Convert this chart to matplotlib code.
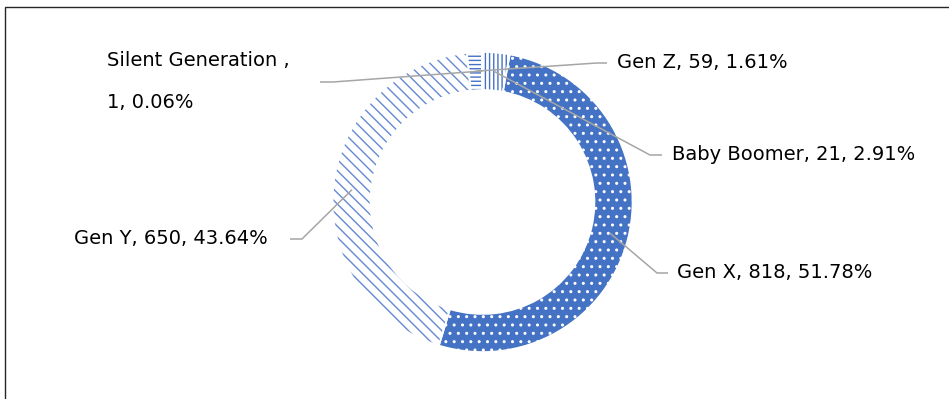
import matplotlib.pyplot as plt
from matplotlib.patches import Rectangle, Wedge
import numpy as np

generations = ["Baby Boomer", "Gen X", "Gen Y", "Gen Z", "Silent Generation"]
counts = [21, 818, 650, 59, 1]
shares = [2.91, 51.78, 43.64, 1.61, 0.06]

blue = "#4472C4"
face_colors = ["white", blue, "white", "white", "white"]
hatch_colors = [blue, "white", "#6489d2", blue, blue]
hatches = ["||||", "..", "\\\\\\", "----", "----"]

W, H = 949, 399
plt.rcParams["hatch.linewidth"] = 1.0

fig = plt.figure(figsize=(W / 100, H / 100), dpi=100)
ax = fig.add_axes([0, 0, 1, 1])

def top(y):
    # pixel row counted from the top -> axes y
    return H - y

cx, cy, R, ring = 482.5, top(202), 150, 38
wedges, _ = ax.pie(shares, radius=R, center=(cx, cy), startangle=90,
                   counterclock=False, colors=face_colors,
                   wedgeprops=dict(width=ring, linewidth=0))
for w, hc, h in zip(wedges, hatch_colors, hatches):
    w.set_edgecolor(hc)
    w.set_hatch(h)

# thin white gaps between the slices
for w in wedges:
    ax.add_patch(Wedge(w.center, w.r, w.theta1, w.theta2, width=w.width,
                       fill=False, edgecolor="white", linewidth=1.2))

ax.set_xlim(0, W)
ax.set_ylim(0, H)
ax.axis("off")

# leader line layout: elbow x, elbow y, end x, text x, alignment
layout = {
    "Baby Boomer": (650, 155, 662, 672, "left"),
    "Gen X": (657, 273, 668, 677, "left"),
    "Gen Y": (302, 239, 290, 268, "right"),
    "Gen Z": (597, 63, 607, 617, "left"),
    "Silent Generation": (333, 82, 320, 107, "left"),
}

for w, name, n, p in zip(wedges, generations, counts, shares):
    t = np.deg2rad((w.theta1 + w.theta2) / 2)
    r = w.r - w.width / 2
    axx = w.center[0] + r * np.cos(t)
    ayy = w.center[1] + r * np.sin(t)
    ex, ey, endx, tx, ha = layout[name]
    ax.plot([axx, ex, endx], [ayy, top(ey), top(ey)], color="#A6A6A6",
            lw=1.1, solid_capstyle="butt")
    if name == "Silent Generation":
        ax.text(tx, top(ey - 22), f"{name} ,", fontsize=14, ha=ha, va="center")
        ax.text(tx, top(ey + 21), f"{n}, {p:.2f}%", fontsize=14, ha=ha,
                va="center")
    else:
        ax.text(tx, top(ey), f"{name}, {n}, {p:.2f}%", fontsize=14, ha=ha,
                va="center")

# chart frame, cut off on the right and bottom
fig.add_artist(Rectangle((5 / W, -0.1), 1.2, 1 - 7 / H + 0.1,
                         transform=fig.transFigure, fill=False,
                         edgecolor="#262626", lw=1))

plt.savefig("out.png", dpi=100)
